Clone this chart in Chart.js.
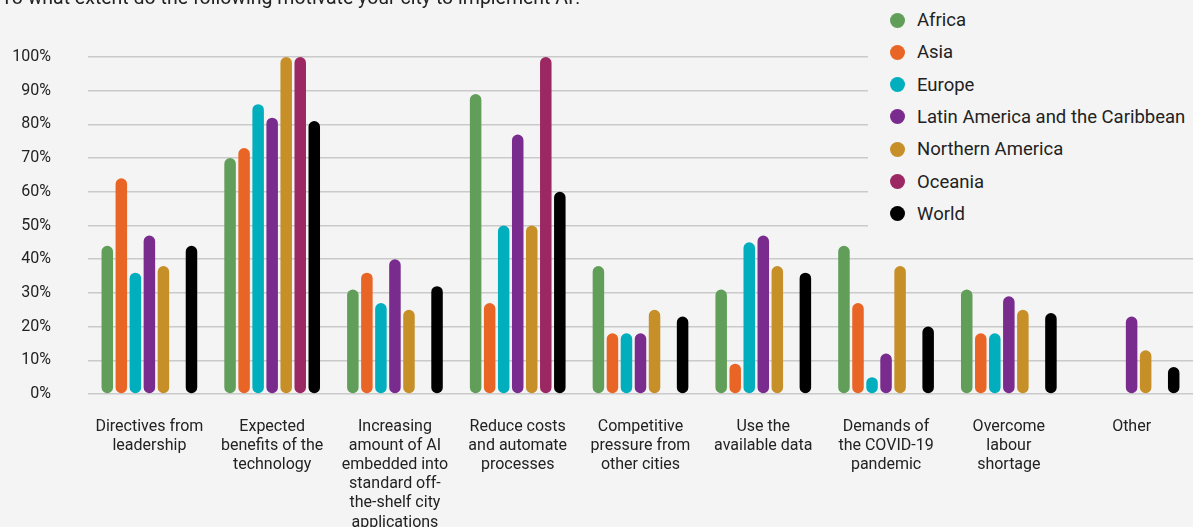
<!DOCTYPE html>
<html>
<head>
<meta charset="utf-8">
<script src="https://cdn.jsdelivr.net/npm/chart.js@4/dist/chart.umd.min.js"></script>
<style>
    html, body { margin: 0; padding: 0; background: #f4f4f4; overflow: hidden; }
    #contenedor { position: relative; width: 1193px; height: 527px; font-family: Roboto, sans-serif; color: #222; }
    #titulo { position: absolute; top: -14px; left: 1px; font-size: 19.5px; line-height: 24px; white-space: nowrap; }
    #leyenda { position: absolute; left: 868px; top: 0; width: 325px; height: 236px; background: #f4f4f4; }
    .item { position: absolute; left: 22px; height: 32px; display: flex; align-items: center; font-size: 18.5px; white-space: nowrap; }
    .punto { width: 15px; height: 15px; border-radius: 50%; margin-right: 12px; }
</style>
</head>
<body>
<div id="contenedor">
    <canvas id="graficoMotivos"></canvas>
    <div id="titulo">To what extent do the following motivate your city to implement AI?</div>
    <div id="leyenda"></div>
</div>
<script>
const categorias = [
    ['Directives from', 'leadership'],
    ['Expected', 'benefits of the', 'technology'],
    ['Increasing', 'amount of AI', 'embedded into', 'standard off-', 'the-shelf city', 'applications'],
    ['Reduce costs', 'and automate', 'processes'],
    ['Competitive', 'pressure from', 'other cities'],
    ['Use the', 'available data'],
    ['Demands of', 'the COVID-19', 'pandemic'],
    ['Overcome', 'labour', 'shortage'],
    ['Other']
];

const africa   = [44, 70, 31, 89, 38, 31, 44, 31, null];
const asia     = [64, 73, 36, 27, 18, 9, 27, 18, null];
const europa   = [36, 86, 27, 50, 18, 45, 5, 18, null];
const latam    = [47, 82, 40, 77, 18, 47, 12, 29, 23];
const norteam  = [38, 100, 25, 50, 25, 38, 38, 25, 13];
const oceania  = [null, 100, null, 100, null, null, null, null, null];
const mundo    = [44, 81, 32, 60, 23, 36, 20, 24, 8];

const marcasY = [0, 10, 20, 30, 40, 50, 60, 70, 80, 90, 100];

const serie = (label, data, color) => ({
    label: label,
    data: data,
    backgroundColor: color,
    borderRadius: 20,
    borderSkipped: false,
    categoryPercentage: 0.8,
    barPercentage: 0.82
});

const ctx = document.getElementById('graficoMotivos');
const grafico = new Chart(ctx, {
    type: 'bar',
    data: {
        labels: categorias,
        datasets: [
            serie('Africa', africa, '#619e59'),
            serie('Asia', asia, '#e96526'),
            serie('Europe', europa, '#00aebe'),
            serie('Latin America and the Caribbean', latam, '#792b8e'),
            serie('Northern America', norteam, '#c68f28'),
            serie('Oceania', oceania, '#9b2763'),
            serie('World', mundo, '#000000')
        ]
    },
    options: {
        responsive: true,
        maintainAspectRatio: false,
        animation: false,
        layout: { padding: { top: 57, right: 0, left: 0, bottom: 0 } },
        plugins: {
            legend: { display: false },
            tooltip: { enabled: false }
        },
        scales: {
            x: {
                grid: { display: false, drawTicks: false },
                border: { display: false },
                ticks: {
                    color: '#222',
                    padding: 23,
                    maxRotation: 0,
                    autoSkip: false,
                    font: { family: 'Roboto', size: 16, lineHeight: 1.2 }
                },
                afterFit: (escala) => { escala.height = 133; }
            },
            y: {
                min: 0,
                max: 100,
                afterBuildTicks: (escala) => { escala.ticks = marcasY.map(v => ({ value: v })); },
                grid: { color: '#cacaca', lineWidth: 1.5, drawTicks: false },
                border: { display: false },
                ticks: {
                    color: '#222',
                    padding: 37,
                    font: { family: 'Roboto', size: 16 },
                    callback: (v) => v + '%'
                },
                afterFit: (escala) => { escala.width = 88; }
            }
        }
    }
});

// leyenda en HTML encima del grafico
const leyenda = document.getElementById('leyenda');
grafico.data.datasets.forEach((ds, i) => {
    const item = document.createElement('div');
    item.className = 'item';
    item.style.top = (4 + i * 32.3) + 'px';
    item.innerHTML = '<span class="punto" style="background:' + ds.backgroundColor + '"></span>' + ds.label;
    leyenda.appendChild(item);
});
</script>
</body>
</html>
